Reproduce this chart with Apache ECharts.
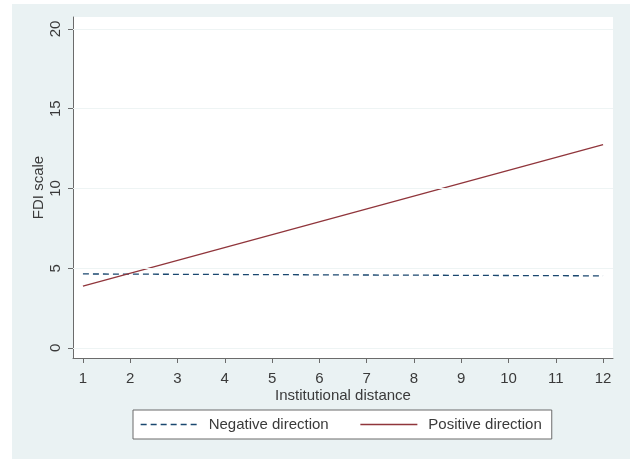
<!DOCTYPE html>
<html>
<head>
<meta charset="utf-8">
<script src="https://cdn.jsdelivr.net/npm/echarts@6/dist/echarts.min.js"></script>
<style>
  html, body { margin: 0; padding: 0; background: #ffffff; }
  #chart { width: 630px; height: 459px; }
</style>
</head>
<body>
<div id="chart"></div>
<script>
// Predicted FDI scale over institutional distance, by direction
const distance = [1, 12];
const negativeDirection = [4.64, 4.52];
const positiveDirection = [3.87, 12.75];
const xTicks = [1, 2, 3, 4, 5, 6, 7, 8, 9, 10, 11, 12];
const yTicks = [0, 5, 10, 15, 20];

const chart = echarts.init(document.getElementById('chart'), null, { renderer: 'canvas' });

const font = 'Liberation Sans, Arial, sans-serif';
const textColor = '#3a3a3a';
const axisColor = '#6b6b6b';
const fontSize = 15;

const option = {
  backgroundColor: '#ffffff',
  animation: false,
  graphic: [{
    type: 'rect',
    z: -10,
    silent: true,
    shape: { x: 12, y: 4, width: 618, height: 455 },
    style: { fill: '#eaf2f3' }
  }],
  grid: {
    show: true,
    left: 73, right: 17, top: 17, bottom: 101,
    backgroundColor: '#ffffff',
    borderWidth: 0
  },
  xAxis: {
    type: 'value',
    min: 0.79, max: 12.21,
    name: 'Institutional distance',
    nameLocation: 'middle',
    nameGap: 30,
    nameMoveOverlap: false,
    nameTextStyle: { fontFamily: font, fontSize: fontSize, color: textColor },
    axisLine: { show: true, onZero: false, lineStyle: { color: axisColor, width: 1 } },
    axisTick: { show: true, customValues: xTicks, length: 5, inside: false, lineStyle: { color: axisColor } },
    axisLabel: { customValues: xTicks, fontFamily: font, fontSize: fontSize, color: textColor, margin: 13 },
    splitLine: { show: false }
  },
  yAxis: {
    type: 'value',
    min: -0.63, max: 20.75,
    name: 'FDI scale',
    nameLocation: 'middle',
    nameRotate: 90,
    nameGap: 27,
    nameMoveOverlap: false,
    nameTextStyle: { fontFamily: font, fontSize: fontSize, color: textColor },
    axisLine: { show: true, onZero: false, lineStyle: { color: axisColor, width: 1 } },
    axisTick: { show: true, customValues: yTicks, length: 5, inside: false, lineStyle: { color: axisColor } },
    axisLabel: { customValues: yTicks, rotate: 90, fontFamily: font, fontSize: fontSize, color: textColor, margin: 10 },
    splitLine: { show: false }
  },
  legend: {
    left: 133, top: 410,
    orient: 'horizontal',
    backgroundColor: '#ffffff',
    borderColor: '#6b6b6b',
    borderWidth: 1,
    borderRadius: 0,
    padding: [7, 10, 7, 7],
    itemWidth: 57,
    itemHeight: 14,
    itemGap: 31,
    itemStyle: { opacity: 0 },
    lineStyle: { width: 1.3 },
    textStyle: { fontFamily: font, fontSize: fontSize, color: textColor, padding: [0, 0, 0, 6] },
    data: ['Negative direction', 'Positive direction']
  },
  series: [
    {
      name: 'Gridlines',
      type: 'line',
      data: [],
      silent: true,
      markLine: {
        silent: true,
        symbol: 'none',
        label: { show: false },
        lineStyle: { color: '#eef4f4', type: 'solid', width: 1 },
        data: yTicks.map(v => ({ yAxis: v }))
      }
    },
    {
      name: 'Negative direction',
      type: 'line',
      data: distance.map((x, i) => [x, negativeDirection[i]]),
      showSymbol: false,
      symbol: 'none',
      lineStyle: { color: '#1a476f', width: 1.3, type: [6, 4] },
      itemStyle: { color: '#1a476f' }
    },
    {
      name: 'Positive direction',
      type: 'line',
      data: distance.map((x, i) => [x, positiveDirection[i]]),
      showSymbol: false,
      symbol: 'none',
      lineStyle: { color: '#90353b', width: 1.3, type: 'solid' },
      itemStyle: { color: '#90353b' }
    }
  ]
};

chart.setOption(option);
</script>
</body>
</html>
